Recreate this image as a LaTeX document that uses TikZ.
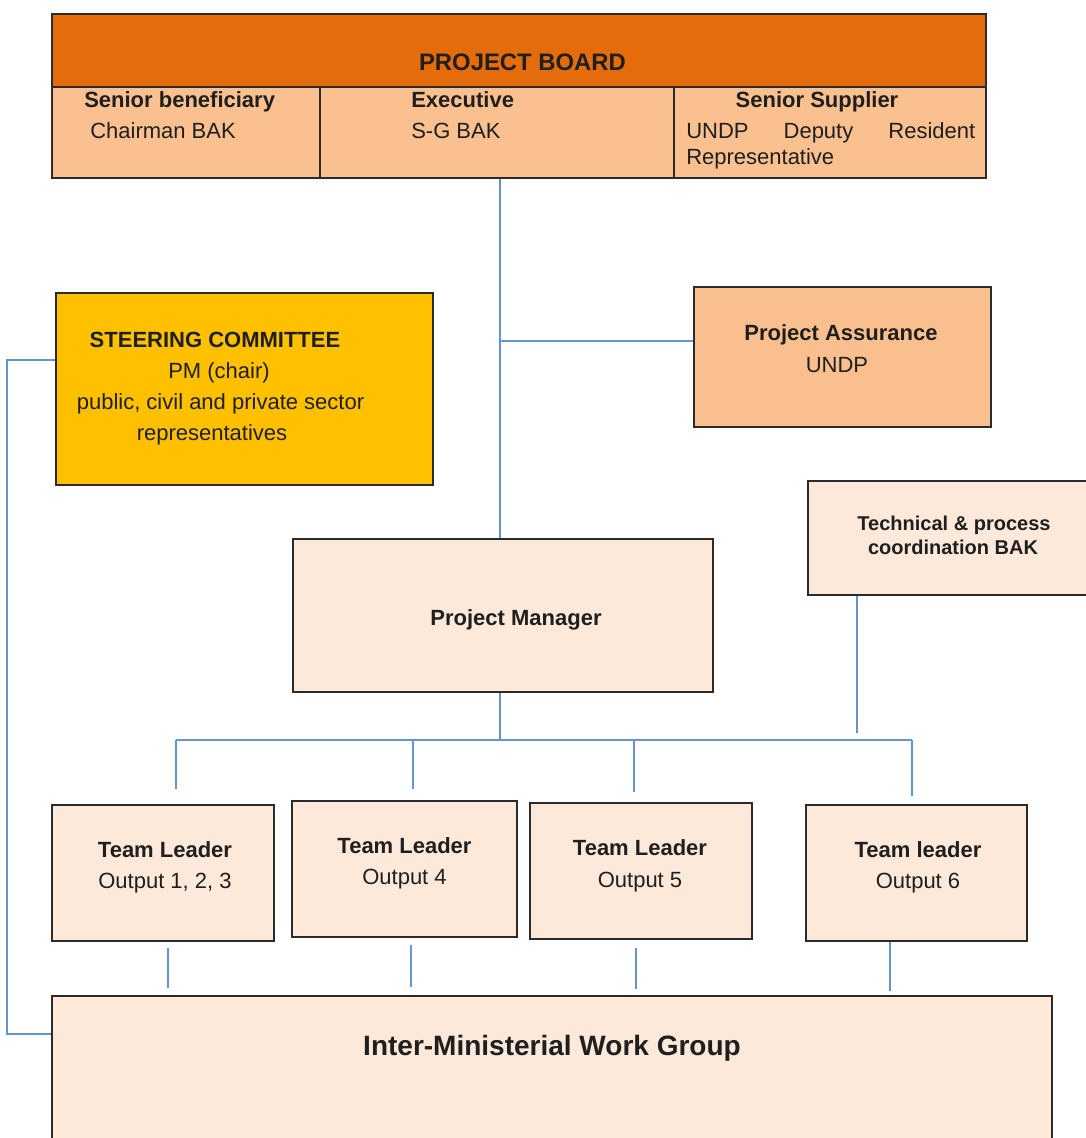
\documentclass[tikz,border=0pt]{standalone}
\usepackage{fontspec}
\setmainfont{Liberation Sans}
\usetikzlibrary{fit,calc}
\definecolor{hdr}{HTML}{E46C0A}
\definecolor{midor}{HTML}{FAC090}
\definecolor{pacol}{HTML}{F9BF8F}
\definecolor{yel}{HTML}{FFC000}
\definecolor{lite}{HTML}{FDE9D9}
\definecolor{linkblue}{HTML}{6495D0}
\definecolor{edgecol}{HTML}{2B2B2B}
\definecolor{ink}{HTML}{1F1F1F}
\begin{document}
\begin{tikzpicture}[x=0.75pt,y=-0.75pt,
  box/.style={draw=edgecol, line width=1.3pt, inner sep=0pt},
  divline/.style={draw=edgecol, line width=1.3pt},
  conn/.style={draw=linkblue, line width=1.2pt},
  lbl/.style={anchor=base, inner sep=0pt, text=ink, font=\fontsize{16.5}{20}\selectfont},
  lblb/.style={lbl, font=\fontsize{16.5}{20}\selectfont\bfseries},
  lblw/.style={lbl, anchor=base west},
  lblbw/.style={lblb, anchor=base west},
  lblsm/.style={lbl, font=\fontsize{15}{18}\selectfont\bfseries}]
\useasboundingbox (0,0) rectangle (1085,1138);

% ---- Project board ----
\node[box, fill=midor, fit={(52,14)(986,178)}] (board) {};
\node[box, fill=hdr, fit={(52,14)(986,87)}] (hdr) {};
\draw[divline] (320,87) -- (320,178);
\draw[divline] (674,87) -- (674,178);
\node[lblb, font=\fontsize{17.9}{20}\selectfont\bfseries] (tpb) at (522.5,70) {PROJECT BOARD};
\node[lblbw] (tsb) at (84,108) {Senior beneficiary};
\node[lblw] (tcb) at (90,138) {Chairman BAK};
\node[lblbw] (tex) at (411,108) {Executive};
\node[lblw] (tsg) at (411,138) {S-G BAK};
\node[lblb] (tss) at (817,108) {Senior Supplier};
\node[lblw] (tud) at (686,138) {\makebox[216.75pt][s]{UNDP Deputy Resident}};
\node[lblw] (trp) at (686,164) {Representative};

% ---- Steering committee ----
\node[box, fill=yel, fit={(56,293)(433,485)}] (sc) {};
\node[lblb] (tsc1) at (215,347) {STEERING COMMITTEE};
\node[lbl] (tsc2) at (219,378) {PM (chair)};
\node[lbl] (tsc3) at (220.5,409) {public, civil and private sector};
\node[lbl] (tsc4) at (212,440) {representatives};

% ---- Project assurance ----
\node[box, fill=pacol, fit={(694,287)(991,427)}] (pa) {};
\node[lblb] (tpa1) at (841,340) {Project Assurance};
\node[lbl] (tpa2) at (837,372) {UNDP};

% ---- Technical coordination ----
\node[box, fill=lite, fit={(808,481)(1100,595)}] (tech) {};
\node[lblsm] (ttc1) at (954,530) {Technical \& process};
\node[lblsm] (ttc2) at (953,554) {coordination BAK};

% ---- Project manager ----
\node[box, fill=lite, fit={(293,539)(713,692)}] (pm) {};
\node[lblb] (tpm) at (516,625) {Project Manager};

% ---- Team leaders ----
\node[box, fill=lite, fit={(52,805)(274,941)}] (tl1) {};
\node[lblb] (ttl1a) at (165,857) {Team Leader};
\node[lbl] (ttl1b) at (165,888) {Output 1, 2, 3};
\node[box, fill=lite, fit={(292,801)(517,937)}] (tl4) {};
\node[lblb] (ttl4a) at (404.5,853) {Team Leader};
\node[lbl] (ttl4b) at (404.5,884) {Output 4};
\node[box, fill=lite, fit={(530,803)(752,939)}] (tl5) {};
\node[lblb] (ttl5a) at (640,855) {Team Leader};
\node[lbl] (ttl5b) at (640,887) {Output 5};
\node[box, fill=lite, fit={(806,805)(1027,941)}] (tl6) {};
\node[lblb] (ttl6a) at (918,857) {Team leader};
\node[lbl] (ttl6b) at (918,888) {Output 6};

% ---- Inter-ministerial work group ----
\node[box, fill=lite, fit={(52,996)(1052,1160)}] (imwg) {};
\node[lblb, font=\fontsize{21}{24}\selectfont\bfseries] (tim) at (552,1055) {Inter-Ministerial Work Group};

% ---- Connectors ----
\coordinate (spine) at (500,341);
\draw[conn] (board.south -| spine) -- (spine |- pm.north);
\draw[conn] (spine) -- (spine -| pa.west);

\coordinate (bus) at (500,740);
\draw[conn] (pm.south -| bus) -- (bus);
\coordinate (d1) at (176,740);
\coordinate (d4) at (413,740);
\coordinate (d5) at (634,740);
\coordinate (d6) at (912,740);
\draw[conn] (d1) -- (d6);
\draw[conn, shorten >=11pt] (d1) -- (d1 |- tl1.north);
\draw[conn, shorten >=8pt] (d4) -- (d4 |- tl4.north);
\draw[conn, shorten >=7.5pt] (d5) -- (d5 |- tl5.north);
\draw[conn, shorten >=6pt] (d6) -- (d6 |- tl6.north);

\coordinate (tx) at (857,733);
\draw[conn] (tx |- tech.south) -- (tx);

\coordinate (b1) at (168,960);
\coordinate (b4) at (411,960);
\coordinate (b5) at (636,960);
\coordinate (b6) at (890,960);
\draw[conn, shorten <=4.5pt, shorten >=5pt] (b1 |- tl1.south) -- (b1 |- imwg.north);
\draw[conn, shorten <=5pt, shorten >=6pt] (b4 |- tl4.south) -- (b4 |- imwg.north);
\draw[conn, shorten <=6pt, shorten >=4.5pt] (b5 |- tl5.south) -- (b5 |- imwg.north);
\draw[conn, shorten >=3pt] (b6 |- tl6.south) -- (b6 |- imwg.north);

\coordinate (lt) at (7,360);
\coordinate (lbot) at (7,1034);
\draw[conn] (lt -| sc.west) -- (lt) -- (lbot) -- (lbot -| imwg.west);
\end{tikzpicture}
\end{document}
